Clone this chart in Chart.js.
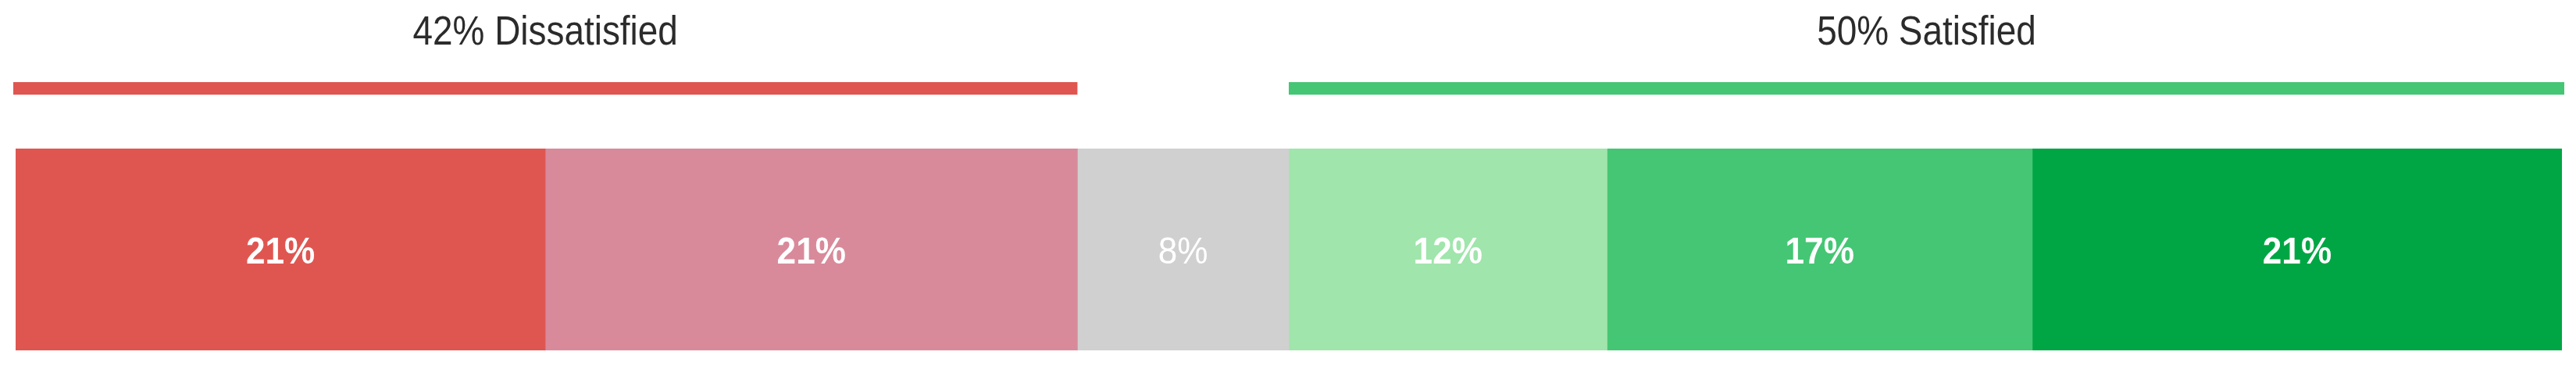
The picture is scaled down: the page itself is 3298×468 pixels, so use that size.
<!DOCTYPE html>
<html>
<head>
<meta charset="utf-8">
<script src="https://cdn.jsdelivr.net/npm/chart.js@4/dist/chart.umd.min.js"></script>
<style>
  html, body { margin: 0; padding: 0; background: #ffffff; }
  #wrap { width: 3298px; height: 468px; }
</style>
</head>
<body>
<div id="wrap"><canvas id="c" width="3298" height="468"></canvas></div>
<script>
// ---- Data ----
const categories = ["Response"];
const segmentNames = ["Very dissatisfied", "Dissatisfied", "Neutral", "Somewhat satisfied", "Satisfied", "Very satisfied"];
const segmentValues = [20.8, 20.9, 8.3, 12.5, 16.7, 20.8];
const segmentLabels = ["21%", "21%", "8%", "12%", "17%", "21%"];
const segmentColors = ["#DF5651", "#D88A9B", "#D0D0D0", "#A0E5AC", "#45C674", "#00A644"];
const groupTitles = ["42% Dissatisfied", "50% Satisfied"];
const groupStart = [0, 3];   // first segment index of each group
const groupEnd = [2, 6];     // one past last segment index
const groupColors = ["#DF5651", "#45C674"];

const total = segmentValues.reduce((a, b) => a + b, 0);

const FONT = "'Liberation Sans', Arial, Helvetica, sans-serif";
const SQUEEZE = 0.9;

function drawText(ctx, text, cx, baseY, size, weight, color) {
  ctx.save();
  ctx.font = weight + " " + size + "px " + FONT;
  ctx.fillStyle = color;
  ctx.textAlign = "center";
  ctx.textBaseline = "alphabetic";
  ctx.translate(cx, baseY);
  ctx.scale(SQUEEZE, 1);
  ctx.fillText(text, 0, 0);
  ctx.restore();
}

const overlayPlugin = {
  id: "overlay",
  afterDatasetsDraw(chart) {
    const ctx = chart.ctx;
    const xs = chart.scales.x;
    // cumulative boundaries
    const cum = [0];
    segmentValues.forEach(v => cum.push(cum[cum.length - 1] + v));

    // segment labels
    chart.data.datasets.forEach((ds, i) => {
      const meta = chart.getDatasetMeta(i);
      const el = meta.data[0];
      if (!el) return;
      const cx = (el.x + el.base) / 2;
      const cy = el.y;
      const size = 49;
      const weight = segmentLabels[i] === "8%" ? "normal" : "bold";
      drawText(ctx, segmentLabels[i], cx, cy + size * 0.716 / 2, size, weight, "#ffffff");
    });

    // group lines and titles
    groupTitles.forEach((t, g) => {
      const x0 = xs.getPixelForValue(cum[groupStart[g]]) - (g === 0 ? 3 : 0);
      const x1 = xs.getPixelForValue(cum[groupEnd[g]]) + (g === 1 ? 3 : 0);
      ctx.save();
      ctx.fillStyle = groupColors[g];
      ctx.fillRect(x0, 105, x1 - x0, 16);
      ctx.restore();
      drawText(ctx, t, (x0 + x1) / 2, 57, 51, "normal", "#2b2b2b");
    });
  }
};

const datasets = segmentNames.map((name, i) => ({
  label: name,
  data: [segmentValues[i]],
  backgroundColor: segmentColors[i],
  borderWidth: 0,
  barPercentage: 1.0,
  categoryPercentage: 1.0
}));

new Chart(document.getElementById("c"), {
  type: "bar",
  data: { labels: categories, datasets: datasets },
  options: {
    indexAxis: "y",
    responsive: false,
    maintainAspectRatio: false,
    devicePixelRatio: 1,
    animation: false,
    layout: { padding: { left: 20, right: 18, top: 190, bottom: 20 } },
    plugins: {
      legend: { display: false },
      tooltip: { enabled: false },
      title: { display: false }
    },
    scales: {
      x: { stacked: true, display: false, min: 0, max: total },
      y: { stacked: true, display: false }
    }
  },
  plugins: [overlayPlugin]
});
</script>
</body>
</html>
